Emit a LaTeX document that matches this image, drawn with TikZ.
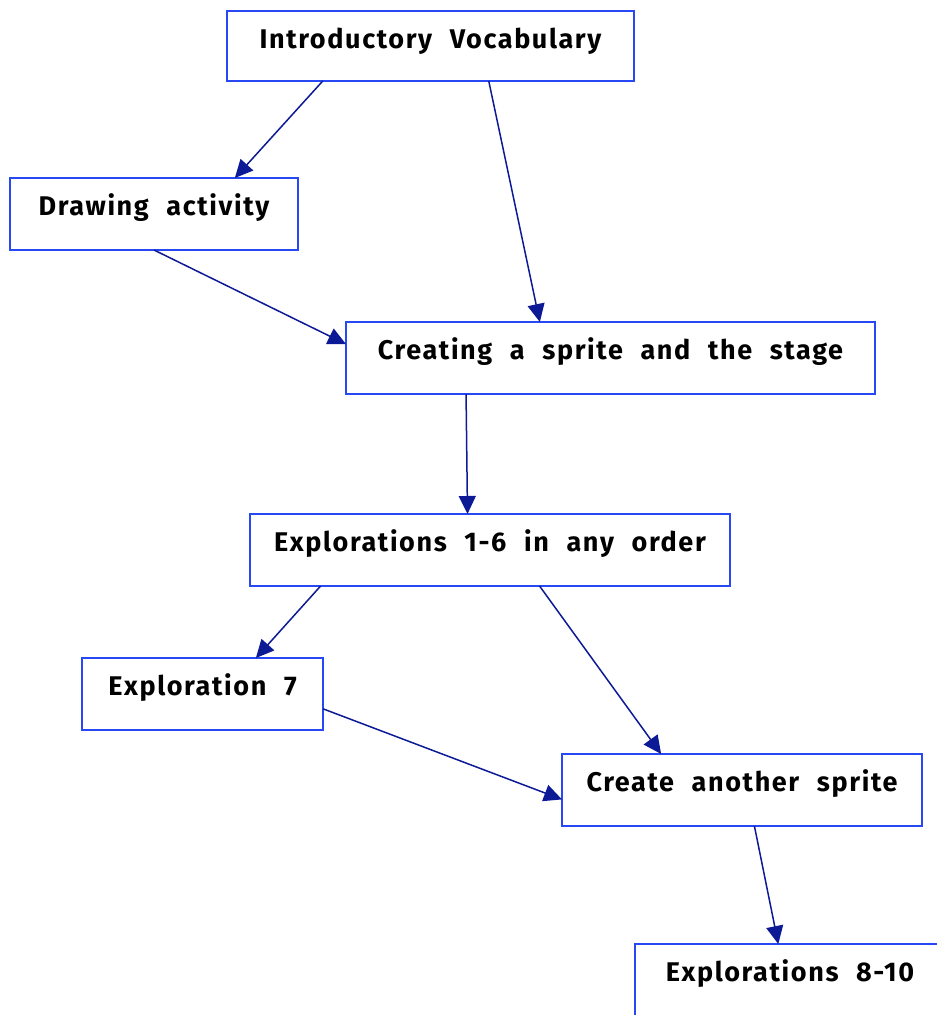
\documentclass[tikz,border=0pt]{standalone}
\usepackage{fontspec}
\setmainfont{Fira Sans}[LetterSpace=6, WordSpace=2.2]
\usetikzlibrary{arrows.meta}
\definecolor{boxblue}{RGB}{40,72,245}
\definecolor{linkblue}{RGB}{12,26,150}

\begin{document}
\begin{tikzpicture}[x=1pt, y=-1pt,
  stage/.style = {rectangle, draw=boxblue, line width=2.5pt, inner sep=0pt, outer sep=0pt,
                  minimum height=72pt, text height=37pt, text depth=35pt},
  link/.style = {draw=linkblue, line width=1.5pt, -{Triangle[length=18pt, width=17pt]}},
  font=\bfseries\fontsize{27pt}{32pt}\selectfont]
  \useasboundingbox (0, 0) rectangle (937, 1015);

  % Stages.
  \node at (430.5, 46) [stage, minimum width=407pt, minimum height=70pt, text depth=33pt, name=Vocabulary] {Introductory Vocabulary};
  \node at (154, 214) [stage, minimum width=288pt, name=Drawing] {Drawing activity};
  \node at (610.5, 358) [stage, minimum width=529pt, name=Sprite] {Creating a sprite and the stage};
  \node at (490, 550) [stage, minimum width=480pt, name=ExploreOne] {Explorations 1-6 in any order};
  \node at (202.5, 694) [stage, minimum width=241pt, name=ExploreSeven] {Exploration 7};
  \node at (742, 790) [stage, minimum width=360pt, name=Another] {Create another sprite};
  \node at (790, 980) [stage, minimum width=310pt, name=ExploreEight] {Explorations 8-10};

  % Links.
  \draw [link] (Vocabulary.198)
               to (Drawing.24.5);
  \draw [link] (Vocabulary.329.5)
               to (Sprite.153);
  \draw [link] (Drawing.south)
               to (Sprite.177.6);
  \draw [link] (Sprite.194.1)
               to (ExploreOne.122.6);
  \draw [link] (ExploreOne.192.2)
               to (ExploreSeven.34.4);
  \draw [link] (ExploreOne.324.2)
               to (Another.156.8);
  \draw [link] (ExploreSeven.353.4)
               to (Another.183.8);
  \draw [link] (Another.289.9)
               to (ExploreEight.108.4);
\end{tikzpicture}
\end{document}
